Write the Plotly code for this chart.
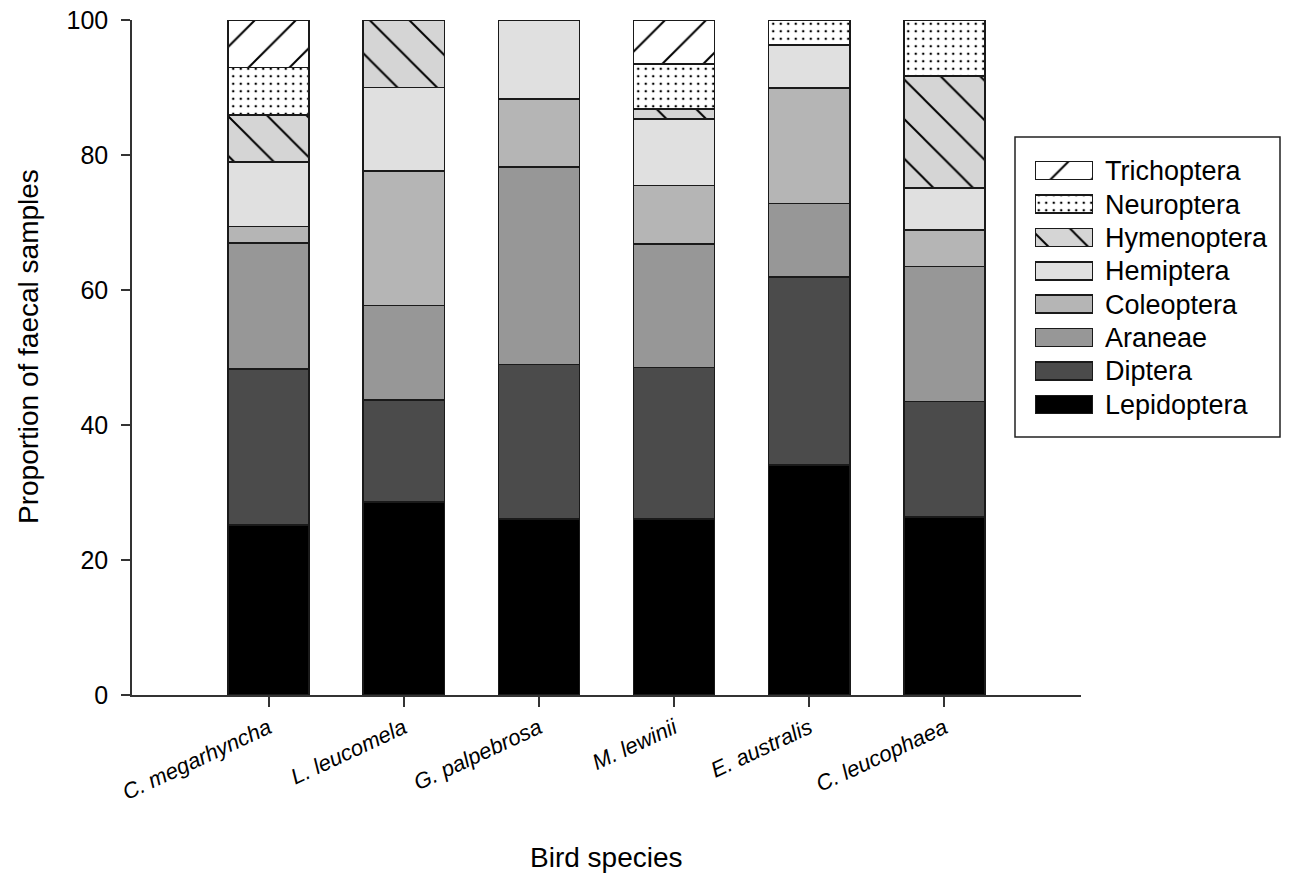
import plotly.graph_objects as go

species = ["C. megarhyncha", "L. leucomela", "G. palpebrosa", "M. lewinii", "E. australis", "C. leucophaea"]

lepidoptera = [25.2, 28.6, 26.1, 26.1, 34.1, 26.4]
diptera     = [23.1, 15.1, 22.9, 22.4, 27.8, 17.1]
araneae     = [18.7, 14.0, 29.2, 18.3, 10.9, 20.0]
coleoptera  = [2.4, 19.9, 10.1, 8.7, 17.1, 5.4]
hemiptera   = [9.6, 12.4, 11.7, 9.8, 6.4, 6.2]
hymenoptera = [6.9, 10.0, None, 1.5, None, 16.6]
neuroptera  = [7.1, None, None, 6.7, 3.7, 8.3]
trichoptera = [7.0, None, None, 6.5, None, None]

y_ticks = [0, 20, 40, 60, 80, 100]

orders = ["Lepidoptera", "Diptera", "Araneae", "Coleoptera", "Hemiptera",
          "Hymenoptera", "Neuroptera", "Trichoptera"]
values = [lepidoptera, diptera, araneae, coleoptera, hemiptera,
          hymenoptera, neuroptera, trichoptera]

styles = {
    "Lepidoptera": dict(color="#000000", shape="", size=8, sol=0.3),
    "Diptera":     dict(color="#4b4b4b", shape="", size=8, sol=0.3),
    "Araneae":     dict(color="#979797", shape="", size=8, sol=0.3),
    "Coleoptera":  dict(color="#b5b5b5", shape="", size=8, sol=0.3),
    "Hemiptera":   dict(color="#e0e0e0", shape="", size=8, sol=0.3),
    "Hymenoptera": dict(color="#d5d5d5", shape="\\", size=28, sol=0.07),
    "Neuroptera":  dict(color="#ffffff", shape=".", size=7.5, sol=0.09),
    "Trichoptera": dict(color="#ffffff", shape="/", size=29, sol=0.07),
}

FONT = "Liberation Sans, Arial, sans-serif"
EDGE = "#1a1a1a"

fig = go.Figure()
xpos = list(range(len(species)))

def make_pattern(st):
    return dict(shape=st["shape"], size=st["size"], solidity=st["sol"],
                fgcolor="#000000", fgopacity=1, bgcolor=st["color"],
                fillmode="overlay")

for name, vals in zip(orders, values):
    st = styles[name]
    fig.add_trace(go.Bar(
        x=xpos, y=vals, name=name, width=0.6,
        marker=dict(color=st["color"], line=dict(color=EDGE, width=1.5),
                    pattern=make_pattern(st)),
        showlegend=False, xaxis="x", yaxis="y",
    ))

# custom legend swatches (drawn as bars on a small separate axis)
for i, name in enumerate(orders):
    st = styles[name]
    fig.add_trace(go.Bar(
        x=[1], y=[i], orientation="h", width=0.54, base=0,
        marker=dict(color=st["color"], line=dict(color=EDGE, width=1.5),
                    pattern=make_pattern(st)),
        showlegend=False, xaxis="x2", yaxis="y2", cliponaxis=False,
        hoverinfo="skip",
    ))

W, H = 1292, 877
ml, mr, mt, mb = 132, 10, 20, 182
pw = W - ml - mr
ph = H - mt - mb

def px_x(x):
    return (x - ml) / pw

def px_y(y):
    return (H - mb - y) / ph

axis_common = dict(showline=True, linecolor="#333333", linewidth=1.5,
                   ticks="outside", tickcolor="#333333", tickwidth=1.5,
                   showgrid=False, zeroline=False, automargin=False)

fig.update_layout(
    width=W, height=H, autosize=False,
    margin=dict(l=ml, r=mr, t=mt, b=mb, autoexpand=False),
    paper_bgcolor="white", plot_bgcolor="rgba(0,0,0,0)",
    barmode="stack", bargap=0.4,
    font=dict(family=FONT, color="black"),
    showlegend=False,
    xaxis=dict(domain=[0, px_x(1081)], range=[-1.01, 6.01],
               tickvals=xpos, ticktext=[f"<i>{s}</i>" for s in species],
               tickangle=-25, ticklen=10, tickfont=dict(size=22, family=FONT),
               anchor="y", **axis_common),
    yaxis=dict(domain=[0, 1], range=[0, 100], tickvals=y_ticks,
               ticklen=9, tickfont=dict(size=25, family=FONT),
               ticklabelstandoff=8, anchor="x", **axis_common),
    xaxis2=dict(domain=[px_x(1035), px_x(1093)], range=[0, 1], visible=False,
                anchor="y2", fixedrange=True, automargin=False),
    yaxis2=dict(domain=[px_y(421), px_y(154)], range=[-0.5, 7.5],
                tickvals=list(range(len(orders))), ticktext=orders,
                side="right", anchor="x2", ticks="", showline=False,
                showgrid=False, zeroline=False, ticklabelstandoff=11,
                tickfont=dict(size=27, family=FONT), fixedrange=True,
                automargin=False),
    shapes=[dict(type="rect", xref="paper", yref="paper",
                 x0=px_x(1015), x1=px_x(1280), y0=px_y(437), y1=px_y(137),
                 line=dict(color="#222222", width=1.5), fillcolor="rgba(0,0,0,0)")],
    annotations=[
        dict(text="Proportion of faecal samples", xref="paper", yref="paper",
             x=px_x(28), y=px_y(347), textangle=-90, showarrow=False,
             font=dict(size=28, family=FONT), xanchor="center", yanchor="middle"),
        dict(text="Bird species", xref="paper", yref="paper",
             x=px_x(606), y=px_y(857), showarrow=False,
             font=dict(size=28, family=FONT), xanchor="center", yanchor="middle"),
    ],
)

fig.write_html("out.html")
